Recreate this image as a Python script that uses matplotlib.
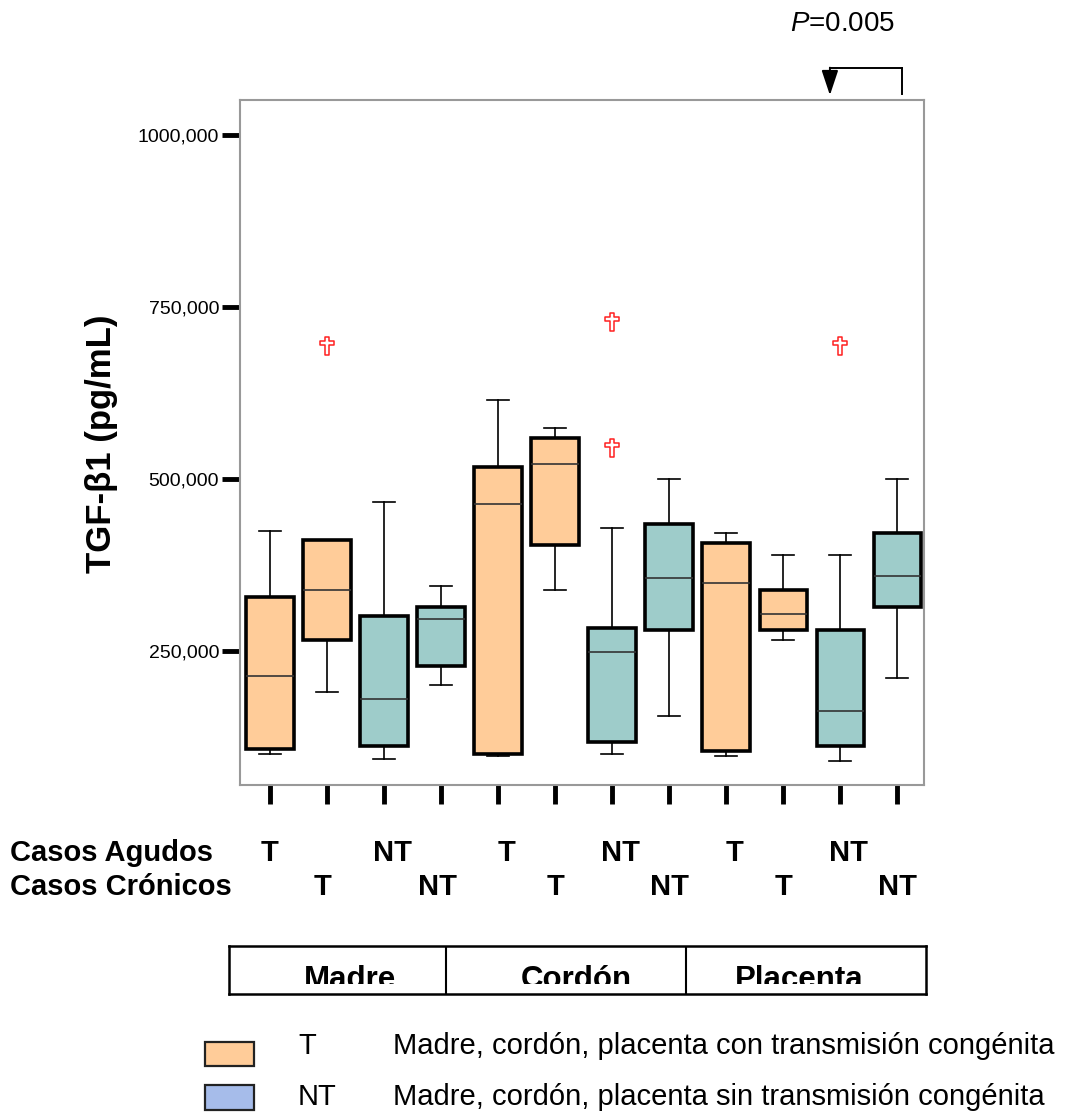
import matplotlib.pyplot as plt
from matplotlib.path import Path
from matplotlib.patches import Rectangle
from matplotlib.transforms import Bbox, TransformedBbox

plt.rcParams['font.family'] = ['Liberation Sans', 'DejaVu Sans']
plt.rcParams['mathtext.fontset'] = 'custom'
plt.rcParams['mathtext.it'] = 'Liberation Sans:italic'
plt.rcParams['mathtext.rm'] = 'Liberation Sans'

# datos (pg/mL)
GROUPS = ['Madre', 'Cordón', 'Placenta']
TRANSMISION = ['T', 'T', 'NT', 'NT'] * 3
AGUDOS = ['T', '', 'NT', ''] * 3
CRONICOS = ['', 'T', '', 'NT'] * 3

WHISLO = [100000, 190000, 93000, 200000, 97000, 338000, 100000, 156000, 97000, 266000, 90000, 211000]
Q1 = [107000, 266000, 111000, 228000, 100000, 404000, 117000, 280000, 104000, 280000, 111000, 314000]
MED = [214000, 338000, 180000, 297000, 463000, 522000, 249000, 356000, 349000, 304000, 162000, 359000]
Q3 = [329000, 411000, 301000, 314000, 518000, 560000, 283000, 435000, 407000, 338000, 280000, 421000]
WHISHI = [425000, 411000, 466000, 345000, 615000, 574000, 428000, 500000, 421000, 390000, 390000, 500000]
FLIERS = [[], [694000], [], [], [], [], [728000, 545000], [], [], [], [694000], []]

Y_TICKS = [250000, 500000, 750000, 1000000]
Y_TICK_LABELS = ['250,000', '500,000', '750,000', '1000,000']

COLORS = {'T': '#FFCC99', 'NT': '#9ECCCA'}
LEGEND_COLORS = {'T': '#FFCC99', 'NT': '#A6BCEA'}
LEGEND_TEXT = {'T': 'Madre, cordón, placenta con transmisión congénita',
               'NT': 'Madre, cordón, placenta sin transmisión congénita'}

W, H = 1066, 1115
fig = plt.figure(figsize=(W / 100, H / 100), dpi=100)
ax = fig.add_axes([240 / W, 1 - 785 / H, 684 / W, 685 / H])

stats = []
for i in range(12):
    stats.append(dict(whislo=WHISLO[i], q1=Q1[i], med=MED[i], q3=Q3[i],
                      whishi=WHISHI[i], fliers=FLIERS[i]))

cross = Path([(-0.25, -1), (0.25, -1), (0.25, 0.1), (0.8, 0.1), (0.8, 0.5),
              (0.25, 0.5), (0.25, 1), (-0.25, 1), (-0.25, 0.5), (-0.8, 0.5),
              (-0.8, 0.1), (-0.25, 0.1), (-0.25, -1)], closed=True)

bp = ax.bxp(stats, positions=range(12), widths=0.83, patch_artist=True,
            boxprops=dict(linewidth=2.6, edgecolor='black'),
            medianprops=dict(color='#333333', linewidth=1.2),
            whiskerprops=dict(color='black', linewidth=1.2),
            capprops=dict(color='black', linewidth=1.2),
            capwidths=0.39,
            flierprops=dict(marker=cross, markersize=13, markerfacecolor='white',
                            markeredgecolor='#FF2020', markeredgewidth=1.1, linestyle='none'))
for patch, t in zip(bp['boxes'], TRANSMISION):
    patch.set_facecolor(COLORS[t])

ax.set_xlim(-0.526, 11.47)
ax.set_ylim(55000, 1051000)
ax.set_yticks(Y_TICKS)
ax.set_yticklabels(Y_TICK_LABELS, fontsize=14)
ax.set_xticks(range(12))
ax.set_xticklabels([])
ax.tick_params(axis='y', direction='out', length=13, width=3.5, color='black', pad=2)
ax.tick_params(axis='x', direction='out', length=14, width=3.5, color='black')
for sp in ax.spines.values():
    sp.set_color('#999999')
    sp.set_linewidth(1.5)

# flecha de comparacion P
ax.plot([9.82, 11.09], [1097000, 1097000], color='black', lw=1.4, clip_on=False)
ax.plot([11.09, 11.09], [1097000, 1059000], color='black', lw=1.4, clip_on=False)
ax.annotate('', xy=(9.82, 1058000), xytext=(9.82, 1098000), annotation_clip=False,
            arrowprops=dict(arrowstyle='-|>,head_length=0.9,head_width=0.3',
                            color='black', lw=1.4, mutation_scale=17, shrinkA=0, shrinkB=0))
fig.text(843 / W, 1 - 24 / H, r'$P$=0.005', fontsize=20, ha='center', va='center')

fig.text(101 / W, 1 - 444 / H, 'TGF-β1 (pg/mL)', rotation=90, fontsize=25,
         fontweight='bold', ha='center', va='center')

# filas de casos
row_y = {'Casos Agudos': 853, 'Casos Crónicos': 887}
fig.text(10 / W, 1 - row_y['Casos Agudos'] / H, 'Casos Agudos', fontsize=21,
         fontweight='bold', ha='left', va='center')
fig.text(10 / W, 1 - row_y['Casos Crónicos'] / H, 'Casos Crónicos', fontsize=21,
         fontweight='bold', ha='left', va='center')
for i in range(12):
    if AGUDOS[i]:
        ax.text(i + (0.15 if i > 0 else 0), 1 - (row_y['Casos Agudos'] - 100) / 685, AGUDOS[i],
                transform=ax.get_xaxis_transform(), fontsize=21, fontweight='bold',
                ha='center', va='center', clip_on=False)
    if CRONICOS[i]:
        ax.text(i - (0.07 if i < 5 else 0), 1 - (row_y['Casos Crónicos'] - 100) / 685, CRONICOS[i],
                transform=ax.get_xaxis_transform(), fontsize=21, fontweight='bold',
                ha='center', va='center', clip_on=False)

# tabla de grupos
tax = fig.add_axes([229 / W, 1 - 994 / H, 697 / W, 48 / H])
tax.set_xlim(0, 1)
tax.set_ylim(0, 1)
tax.set_xticks([])
tax.set_yticks([])
for sp in tax.spines.values():
    sp.set_color('black')
    sp.set_linewidth(1.8)
tax.axvline(0.311, color='black', lw=1.5)
tax.axvline(0.655, color='black', lw=1.5)
clip = TransformedBbox(Bbox([[0, 0.21], [1, 1]]), tax.transAxes)
for xc, g in zip([0.174, 0.499, 0.818], GROUPS):
    t = tax.text(xc, 0.13, g, fontsize=22.5, fontweight='bold', ha='center', va='baseline')
    t.set_clip_box(clip)
    t.set_clip_on(True)

# leyenda
leg_rows = [('T', 1042, 1066, 1046), ('NT', 1085, 1110, 1097)]
for key, y0, y1, yc in leg_rows:
    fig.add_artist(Rectangle((205 / W, 1 - y1 / H), 49 / W, (y1 - y0) / H,
                             transform=fig.transFigure, facecolor=LEGEND_COLORS[key],
                             edgecolor='#222222', linewidth=1.6))
    fig.text(298 / W, 1 - yc / H, key, fontsize=21, ha='left', va='center')
    fig.text(393 / W, 1 - yc / H, LEGEND_TEXT[key], fontsize=21, ha='left', va='center')

fig.savefig('out.png', dpi=100)
